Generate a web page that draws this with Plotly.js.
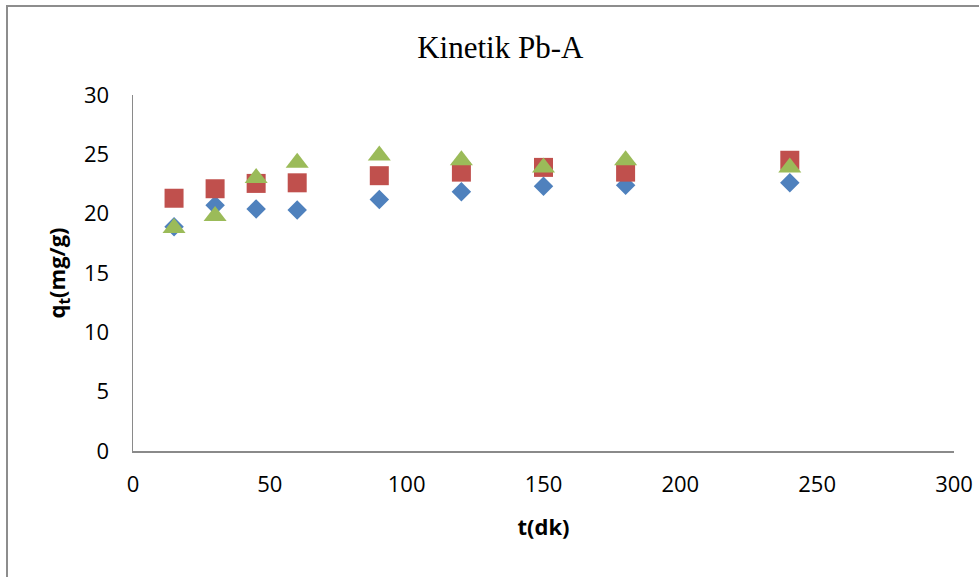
<!DOCTYPE html>
<html>
<head>
<meta charset="utf-8">
<script src="https://cdn.plot.ly/plotly-3.0.1.min.js"></script>
<style>
  html, body { margin: 0; padding: 0; background: #fff; overflow: hidden; }
  #chart { position: absolute; left: 0; top: 0; width: 979px; height: 577px; }
  #frame { position: absolute; left: 6px; top: 5px; width: 1200px; height: 800px;
           border: 2px solid #8d8d8d; pointer-events: none; box-sizing: border-box; }
</style>
</head>
<body>
<div id="chart"></div>
<div id="frame"></div>
<script>
// time (dk)
const timeValues = [15, 30, 45, 60, 90, 120, 150, 180, 240];
// q_t (mg/g) for the three series
const seriesBlue  = [18.9, 20.7, 20.4, 20.3, 21.2, 21.85, 22.3, 22.4, 22.6];
const seriesRed   = [21.3, 22.1, 22.55, 22.6, 23.2, 23.5, 23.9, 23.5, 24.5];
const seriesGreen = [18.8, 19.8, 23.0, 24.3, 24.9, 24.5, 23.9, 24.5, 23.9];

const xTicks = [0, 50, 100, 150, 200, 250, 300];
const yTicks = [0, 5, 10, 15, 20, 25, 30];

const traces = [
  { x: timeValues, y: seriesBlue, mode: 'markers', type: 'scatter', name: 'A',
    marker: { symbol: 'diamond', size: 15, color: '#4F81BD' } },
  { x: timeValues, y: seriesRed, mode: 'markers', type: 'scatter', name: 'B',
    marker: { symbol: 'square', size: 19, color: '#C0504D' } },
  { x: timeValues, y: seriesGreen, mode: 'markers', type: 'scatter', name: 'C',
    marker: { symbol: 'triangle-up', size: 20, color: '#9BBB59' } }
];

const tickFont = { family: 'Open Sans, sans-serif', size: 22, color: '#000' };
const axTitleFont = { family: 'Open Sans, sans-serif', size: 22, color: '#000' };

const layout = {
  width: 979, height: 577,
  paper_bgcolor: '#fff', plot_bgcolor: '#fff',
  margin: { l: 133, r: 25, t: 95, b: 126 },
  showlegend: false,
  title: { text: 'Kinetik Pb-A', font: { family: 'Liberation Serif, Times New Roman, serif', size: 31, color: '#000' },
           xref: 'container', yref: 'container', x: 0.511, y: 0.918, xanchor: 'center', yanchor: 'middle' },
  xaxis: {
    range: [0, 300], tickvals: xTicks, ticktext: xTicks.map(String),
    showgrid: false, zeroline: false, showline: true, linecolor: '#8a8a8a', linewidth: 1.5,
    ticks: '', tickfont: tickFont, ticklabelstandoff: 13,
    title: { text: '<b>t(dk)</b>', font: axTitleFont, standoff: 22 }
  },
  yaxis: {
    range: [0, 30], tickvals: yTicks, ticktext: yTicks.map(String),
    showgrid: false, zeroline: false, showline: true, linecolor: '#8a8a8a', linewidth: 1.5,
    ticks: '', tickfont: tickFont, ticklabelstandoff: 18,
    title: { text: '<b>q<sub>t</sub>(mg/g)</b>', font: axTitleFont, standoff: 12 }
  }
};

Plotly.newPlot('chart', traces, layout, { displayModeBar: false, staticPlot: true });
</script>
</body>
</html>
